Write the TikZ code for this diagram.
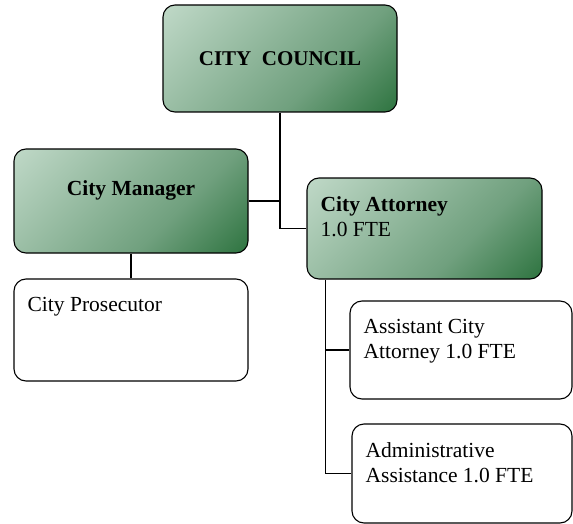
\documentclass[tikz,border=0pt]{standalone}
\usepackage{fontspec}
\setmainfont{Liberation Serif}
\definecolor{boxlight}{RGB}{216,234,222}
\definecolor{boxmid}{RGB}{112,160,126}
\definecolor{boxdark}{RGB}{27,103,46}
\pgfdeclareverticalshading{boxshade}{100bp}{color(0bp)=(boxdark); color(8bp)=(boxdark); color(38bp)=(boxmid); color(100bp)=(boxlight)}

\begin{document}
\begin{tikzpicture}[x=1pt,y=-1pt,
    chart/.style={draw, line width=1.1pt, rounded corners=12pt, font=\fontsize{21.5}{25}\selectfont},
    head/.style={chart, shading=boxshade, shading angle=45, font=\fontsize{21.5}{25}\selectfont\bfseries},
    plain/.style={chart, fill=white},
    txt/.style={anchor=north west, inner sep=0pt, align=left, font=\fontsize{21.5}{25}\selectfont, xshift=14pt, yshift=-19pt},
    link/.style={line width=1.1pt}]
                \useasboundingbox (0,0) rectangle (573,524);
                \node[head, minimum width=234pt, minimum height=107pt, font=\fontsize{21}{25}\selectfont\bfseries] (council) at (280,58.5) {CITY\ \ COUNCIL};
                \node[head, minimum width=234pt, minimum height=104pt, text height=14pt, text depth=26pt] (manager) at (131,201) {City Manager};
                \node[plain, minimum width=234pt, minimum height=102pt, label={[txt]north west:City Prosecutor}] (prosecutor) at (131,330) {};
                \node[head, minimum width=235pt, minimum height=101pt, label={[txt]north west:\textbf{City Attorney}\\1.0 FTE}] (attorney) at (424.5,228.5) {};
                \node[plain, minimum width=222pt, minimum height=98pt, label={[txt]north west:Assistant City\\Attorney 1.0 FTE}] (assistant) at (461,350) {};
                \node[plain, minimum width=220pt, minimum height=99pt, label={[txt]north west:Administrative\\Assistance 1.0 FTE}] (admin) at (462,473.5) {};
                \coordinate (trunk) at ([xshift=19pt]attorney.south west);
                \draw[link] (council.south) |- (attorney.west);
                \draw[link] (manager.east) -- (manager.east -| council.south);
                \draw[link] (manager.south) -- (prosecutor.north);
                \draw[link] (trunk) |- (admin.west);
                \draw[link] (assistant.west) -- (assistant.west -| trunk);
            \end{tikzpicture}
\end{document}
